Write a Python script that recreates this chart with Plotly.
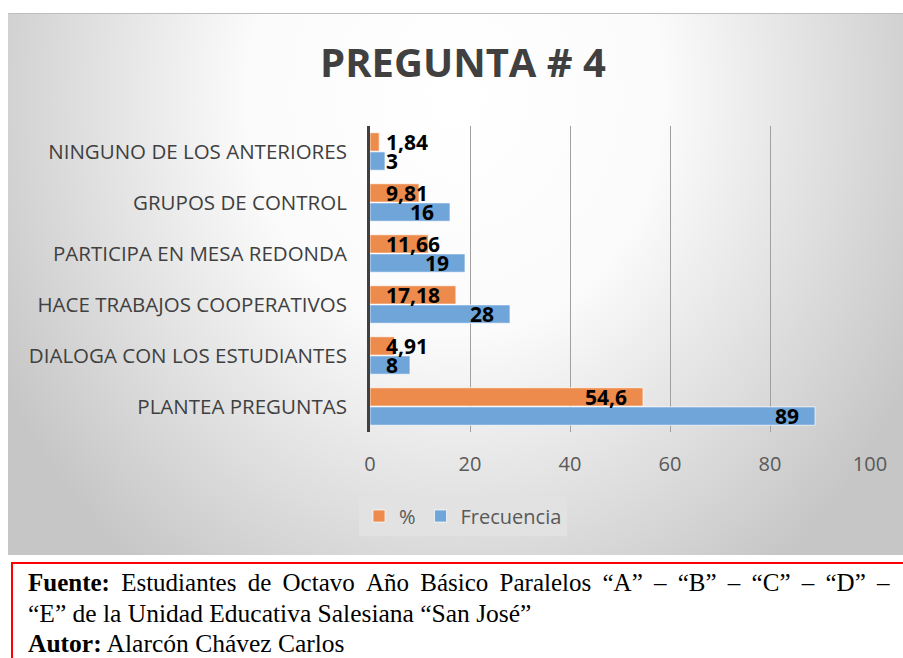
import base64

import plotly.graph_objects as go

categorias = [
    "PLANTEA PREGUNTAS",
    "DIALOGA CON LOS ESTUDIANTES",
    "HACE TRABAJOS COOPERATIVOS",
    "PARTICIPA EN MESA REDONDA",
    "GRUPOS DE CONTROL",
    "NINGUNO DE LOS ANTERIORES",
]
frecuencia = [89, 8, 28, 19, 16, 3]
porcentaje = [54.6, 4.91, 17.18, 11.66, 9.81, 1.84]
x_ticks = [0, 20, 40, 60, 80, 100]

NARANJA = "#ec8b4c"
AZUL = "#6fa5d8"

W, H = 903, 658
L, R, T, B = 370, 33, 126, 226
PW, PH = W - L - R, H - T - B


def px_x(p):
    return (p - L) / PW


def px_y(p):
    return (H - B - p) / PH


def etiqueta(v):
    return str(v).replace(".", ",")


def ancho_texto(s):
    return sum(5 if c == "," else 12 for c in s)


fig = go.Figure()
fig.add_trace(
    go.Bar(
        y=categorias, x=frecuencia, orientation="h", name="Frecuencia",
        marker=dict(color=AZUL, line=dict(color="rgba(255,255,255,0.7)", width=1)),
    )
)
fig.add_trace(
    go.Bar(
        y=categorias, x=porcentaje, orientation="h", name="%",
        marker=dict(color=NARANJA, line=dict(color="rgba(255,255,255,0.7)", width=1)),
    )
)

# etiquetas de datos al estilo "extremo interno" de Excel
escala = PW / 100
for serie, desplaz in ((frecuencia, -9.5), (porcentaje, 9.5)):
    for cat, v in zip(categorias, serie):
        txt = etiqueta(v)
        cabe = v * escala - 16 >= 16 + ancho_texto(txt)
        fig.add_annotation(
            x=v if cabe else 0, y=cat, text=txt, showarrow=False,
            xanchor="right" if cabe else "left", xshift=-14 if cabe else 14,
            yshift=desplaz,
            font=dict(family="Open Sans", size=21, color="black", weight=700),
        )

# fondo degradado del área del gráfico
svg = (
    '<svg xmlns="http://www.w3.org/2000/svg" width="895" height="541" '
    'viewBox="0 0 1 1" preserveAspectRatio="none">'
    '<defs><radialGradient id="g" cx="0.5" cy="0.15" r="1" '
    'gradientTransform="translate(0.5 0.15) scale(0.58 1.1) translate(-0.5 -0.15)">'
    '<stop offset="0" stop-color="#ffffff"/>'
    '<stop offset="0.4" stop-color="#fbfbfb"/>'
    '<stop offset="1" stop-color="#c6c6c6"/>'
    '</radialGradient></defs>'
    '<rect width="1" height="1" fill="url(#g)"/></svg>'
)
src = "data:image/svg+xml;base64," + base64.b64encode(svg.encode()).decode()
fig.add_layout_image(
    source=src, xref="paper", yref="paper",
    x=px_x(8), y=px_y(14), sizex=px_x(903) - px_x(8), sizey=px_y(14) - px_y(555),
    xanchor="left", yanchor="top", sizing="stretch", layer="below",
)
fig.add_shape(
    type="line", xref="paper", yref="paper",
    x0=px_x(8), x1=px_x(903), y0=px_y(13.5), y1=px_y(13.5),
    line=dict(color="#bdbdbd", width=1),
)
# recuadro rojo de la fuente
fig.add_shape(
    type="rect", xref="paper", yref="paper",
    x0=px_x(12), x1=px_x(910), y0=px_y(563), y1=px_y(670),
    line=dict(color="#ff0000", width=2),
)

hueco = "\u00a0\u2009"
linea1 = (
    "<b>Fuente:</b> Estudiantes de Octavo Año Básico Paralelos "
    "“A” – “B” – “C” – “D” –"
).replace(" ", hueco)
lineas = [
    (linea1, 582, 25),
    ("“E” de la Unidad Educativa Salesiana “San José”", 613, 25.5),
    ("<b>Autor:</b> Alarcón Chávez Carlos", 643, 25.5),
]
for texto, yp, tam in lineas:
    fig.add_annotation(
        x=px_x(26), y=px_y(yp), xref="paper", yref="paper", text=texto,
        showarrow=False, xanchor="left", yanchor="middle",
        font=dict(family="Liberation Serif", size=tam, color="black"),
    )

fig.update_layout(
    width=W, height=H,
    margin=dict(l=L, r=R, t=T, b=B, pad=0),
    paper_bgcolor="white",
    plot_bgcolor="rgba(0,0,0,0)",
    barmode="group", bargap=0.25, bargroupgap=0.04,
    title=dict(
        text="PREGUNTA # 4", x=463 / W, y=1 - 63 / H, xanchor="center", yanchor="middle",
        font=dict(family="Open Sans", size=40, color="#404040", weight=700),
    ),
    xaxis=dict(
        range=[0, 100], tickvals=x_ticks, showgrid=True, gridcolor="#a0a0a0",
        gridwidth=1, zeroline=False, showline=False, ticks="",
        tickfont=dict(family="Open Sans", size=20, color="#595959"),
        ticklabelstandoff=18, fixedrange=True,
    ),
    yaxis=dict(
        showline=True, linecolor="#404040", linewidth=3, showgrid=False, ticks="",
        tickfont=dict(family="Open Sans", size=20.5, color="#404040"),
        ticklabelstandoff=16,
    ),
    showlegend=True,
    legend=dict(
        orientation="h", traceorder="reversed", x=px_x(463), y=px_y(516),
        xanchor="center", yanchor="middle", bgcolor="#e2e2e2",
        font=dict(family="Open Sans", size=20, color="#595959"),
    ),
)

fig.write_html(
    "out.html",
    config={"displayModeBar": False},
    post_script="document.body.style.margin = '0';",
)
